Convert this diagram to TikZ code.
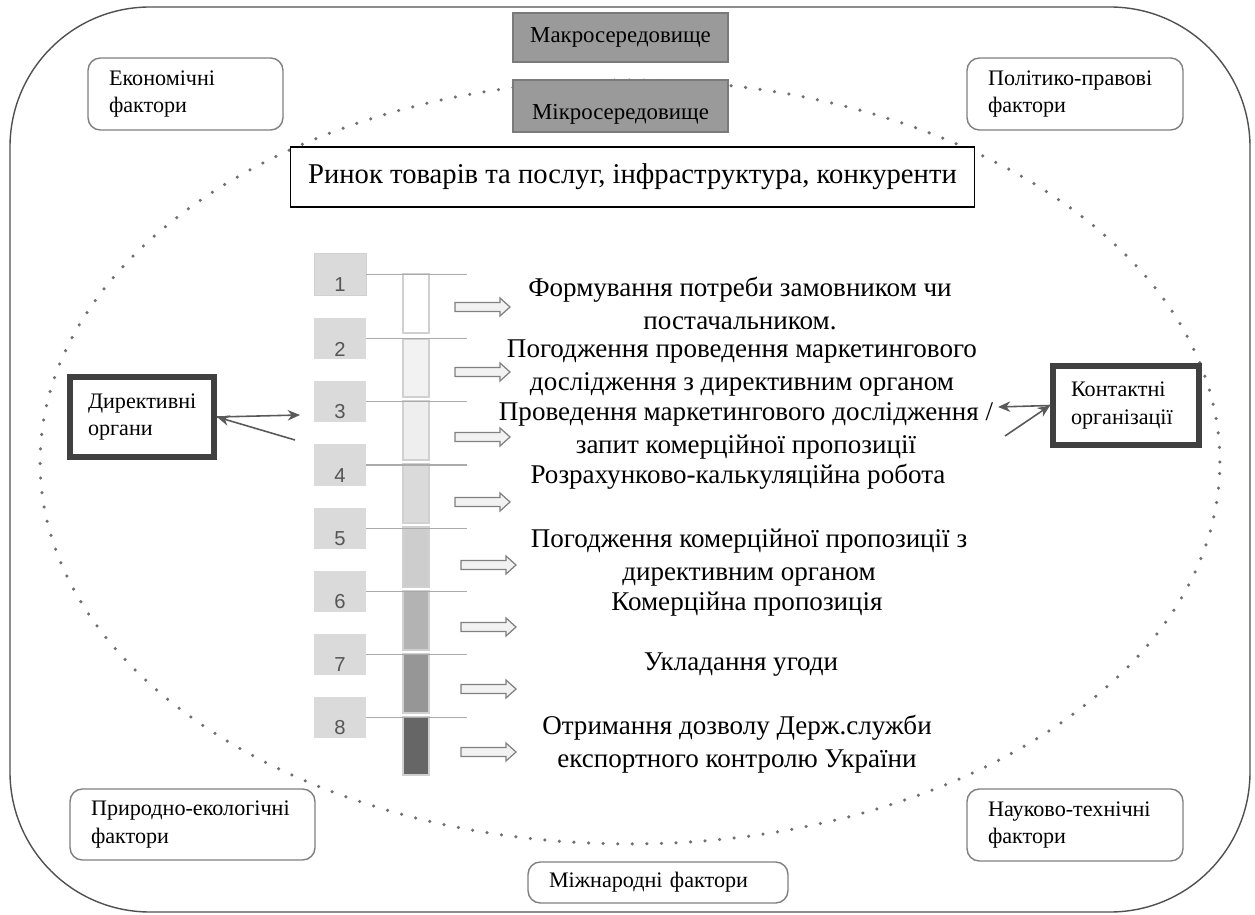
\documentclass[tikz,border=0pt]{standalone}
\usepackage{fontspec}
\setmainfont{Liberation Serif}
\newfontfamily\numfont{Liberation Sans}
\usetikzlibrary{arrows.meta}

\definecolor{outergray}{HTML}{505050}
\definecolor{dotgray}{HTML}{707070}
\definecolor{framegray}{HTML}{7F7F7F}
\definecolor{envfill}{HTML}{9A9A9A}
\definecolor{envborder}{HTML}{7A7A7A}
\definecolor{organgray}{HTML}{404040}
\definecolor{linkgray}{HTML}{595959}
\definecolor{stepgray}{HTML}{DADADA}
\definecolor{numgray}{HTML}{555555}
\definecolor{tickgray}{HTML}{AAAAAA}
\definecolor{barline}{HTML}{D0D0D0}
\definecolor{arrowgray}{HTML}{808080}
\definecolor{arrowfill}{HTML}{F2F2F2}
\definecolor{barA}{HTML}{FFFFFF}
\definecolor{barB}{HTML}{F2F2F2}
\definecolor{barC}{HTML}{EEEEEE}
\definecolor{barD}{HTML}{DADADA}
\definecolor{barE}{HTML}{CDCDCD}
\definecolor{barF}{HTML}{B3B3B3}
\definecolor{barG}{HTML}{969696}
\definecolor{barH}{HTML}{666666}

\newcommand{\smallf}{\fontsize{12.6}{15.5}\selectfont}
\newcommand{\bigf}{\fontsize{15.4}{18.8}\selectfont}
\newcommand{\stepnum}[1]{\raisebox{-6pt}[\height][\depth]{#1}}
% hollow block arrow, #1,#2 = left end of the shaft
\newcommand{\hollowarrow}[2]{%
  \draw[hollow] (#1,#2) ++(0,-4.5) -- ++(45,0) -- ++(0,-4.5) -- ++(10,9)
    -- ++(-10,9) -- ++(0,-4.5) -- ++(-45,0) -- cycle;}

\begin{document}
\begin{tikzpicture}[x=0.02cm, y=-0.02cm, >={Stealth[length=7pt,width=6pt]},
  every node/.style={inner sep=0pt},
  outer/.style={draw=outergray, line width=0.8pt, rounded corners=2.8cm},
  microline/.style={draw=dotgray, line width=2pt, line cap=round, dash pattern=on 0pt off 8.3pt},
  factor/.style={draw=framegray, fill=white, rounded corners=7pt, line width=0.8pt,
    align=left, inner xsep=0.42cm, minimum height=1.44cm, font=\smallf},
  envbox/.style={draw=envborder, fill=envfill, line width=0.8pt, minimum width=4.3cm,
    font=\fontsize{13}{15}\selectfont},
  organ/.style={draw=organgray, fill=white, line width=3.4pt, align=left,
    inner xsep=0.36cm, minimum height=1.6cm, font=\smallf},
  stepbox/.style={fill=stepgray, minimum width=1.04cm, minimum height=0.84cm,
    font=\numfont\fontsize{11.5}{12}\selectfont, text=numgray},
  stage/.style={font=\bigf, align=center},
  barseg/.style={draw=barline, line width=0.6pt},
  tick/.style={draw=tickgray, line width=1.1pt},
  hollow/.style={draw=arrowgray, fill=arrowfill, line width=0.7pt},
  link/.style={draw=linkgray, line width=0.9pt, ->}]
\useasboundingbox (0,0) rectangle (1255,915);

% environment
\draw[outer] (10,7) rectangle (1250,912);
\draw[microline] (630,462) ellipse [x radius=11.8cm, y radius=7.64cm];

\node[envbox, minimum height=0.98cm] (macro) at (620.5,37.5) {Макросередовище};
\node[envbox, minimum height=1.04cm] (micro) at (620.5,106) {\raisebox{-5pt}[\height][\depth]{Мікросередовище}};

\node[factor, text width=3.06cm] (econ) at (185.5,94) {Економічні\\фактори};
\node[factor, text width=3.48cm] (polit) at (1075,94) {Політико-правові\\фактори};
\node[factor, text width=4.06cm, minimum height=1.42cm] (nature) at (192.5,824.5) {Природно-екологічні\\фактори};
\node[factor, text width=3.48cm] (science) at (1075,825) {Науково-технічні\\фактори};
\node[factor, text width=4.36cm, minimum height=0.82cm] (inter) at (658,882.5) {Міжнародні фактори};

\node[draw, fill=white, line width=0.6pt, minimum width=13.7cm, minimum height=1.2cm,
  font=\fontsize{16.3}{19}\selectfont]
  (market) at (632.5,177) {Ринок товарів та послуг, інфраструктура, конкуренти};

% organs
\node[organ, text width=2.16cm] (dir) at (142,417) {Директивні\\органи};
\node[organ, text width=2.2cm, minimum height=1.58cm] (cont) at (1126,405.5) {Контактні\\організації};
\coordinate (d1) at (300,415);
\coordinate (d2) at (295,440);
\coordinate (c1) at (998,407);
\coordinate (c2) at (1005,436);
\draw[link] (dir.east) -- (d1);
\draw[link] (d2) -- (dir.east);
\draw[link] (cont.west) -- (c1);
\draw[link] (c2) -- (cont.west);

% steps
\node[stepbox, draw=barline] (s1) at (340,274.5) {\stepnum{1}};
\node[stepbox] (s2) at (340,338.5) {\stepnum{2}};
\node[stepbox] (s3) at (340,401.5) {\stepnum{3}};
\node[stepbox] (s4) at (340,465) {\stepnum{4}};
\node[stepbox] (s5) at (340,528.5) {\stepnum{5}};
\node[stepbox] (s6) at (340,591.5) {\stepnum{6}};
\node[stepbox] (s7) at (340,654.5) {\stepnum{7}};
\node[stepbox] (s8) at (340,717.5) {\stepnum{8}};

\draw[barseg, fill=barA] (403,274) rectangle (429,333);
\draw[barseg, fill=barB] (403,339) rectangle (429,397);
\draw[barseg, fill=barC] (403,401) rectangle (429,460);
\draw[barseg, fill=barD] (403,464) rectangle (429,523);
\draw[barseg, fill=barE] (403,527) rectangle (429,587);
\draw[barseg, fill=barF] (403,591) rectangle (429,650);
\draw[barseg, fill=barG] (403,654) rectangle (429,713);
\draw[barseg, fill=barH] (403,717) rectangle (429,775);

\draw[tick] (s1.east) -- ++(101,0);
\draw[tick] (s2.east) -- ++(101,0);
\draw[tick] (s3.east) -- ++(101,0);
\draw[tick] (s4.east) -- ++(101,0);
\draw[tick] (s5.east) -- ++(101,0);
\draw[tick] (s6.east) -- ++(101,0);
\draw[tick] (s7.east) -- ++(101,0);
\draw[tick] (s8.east) -- ++(101,0);

\hollowarrow{455}{307}
\hollowarrow{455}{372}
\hollowarrow{455}{437}
\hollowarrow{455}{502}
\hollowarrow{461}{565}
\hollowarrow{461}{627}
\hollowarrow{461}{689}
\hollowarrow{461}{752}

\node[stage] (t1) at (740,303.5) {Формування потреби замовником чи\\постачальником.};
\node[stage] (t2) at (742,368) {Погодження проведення маркетингового\\дослідження з директивним органом};
\node[stage] (t3) at (746,431) {Проведення маркетингового дослідження /\\запит комерційної пропозиції};
\node[stage] (t4) at (738,477) {Розрахунково-калькуляційна робота};
\node[stage] (t5) at (749,557.5) {Погодження комерційної пропозиції з\\директивним органом};
\node[stage] (t6) at (747,604) {Комерційна пропозиція};
\node[stage] (t7) at (741,665) {Укладання угоди};
\node[stage] (t8) at (737,744.5) {Отримання дозволу Держ.служби\\експортного контролю України};
\end{tikzpicture}
\end{document}
